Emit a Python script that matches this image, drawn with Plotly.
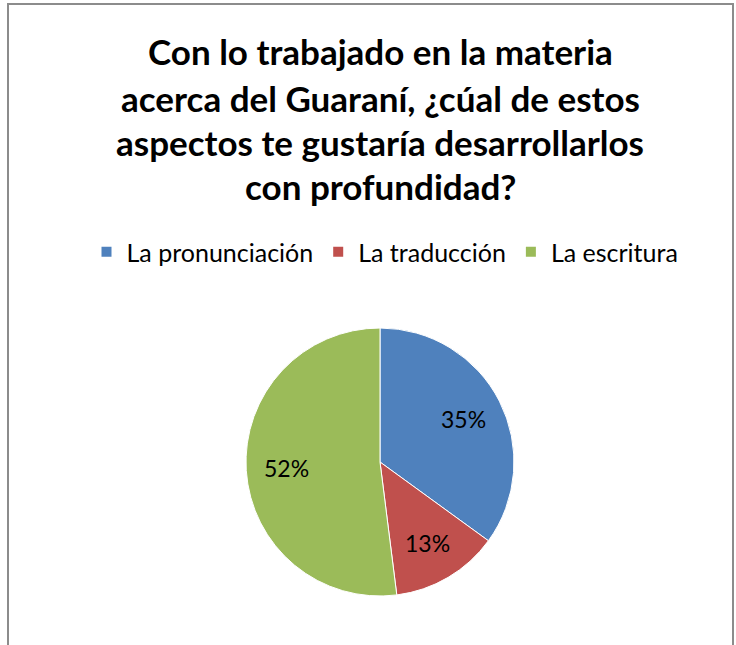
import math
import plotly.graph_objects as go

labels = ["La pronunciación", "La traducción", "La escritura"]
values = [35, 13, 52]
colors = ["#4F81BD", "#C0504D", "#9BBB59"]
title_lines = [
    "Con lo trabajado en la materia",
    "acerca del Guaraní, ¿cúal de estos",
    "aspectos te gustaría desarrollarlos",
    "con profundidad?",
]

W, H = 736, 645
FONT = "Lato, Carlito, Calibri, sans-serif"

# pie placement in pixels (centre and radius)
cx, cy, R = 380, 462, 134

fig = go.Figure(go.Pie(
    labels=labels,
    values=values,
    marker=dict(colors=colors, line=dict(color="white", width=1)),
    sort=False,
    direction="clockwise",
    rotation=0,
    textinfo="none",
    domain=dict(x=[(cx - R) / W, (cx + R) / W], y=[(H - cy - R) / H, (H - cy + R) / H]),
    hoverinfo="label+percent",
))

# data labels at ~70% of the radius, along each slice's mid angle (Excel style)
total = sum(values)
start = 0.0
for v in values:
    mid = (start + v / 2) / total * 2 * math.pi
    start += v
    px_ = cx + 0.70 * R * math.sin(mid)
    py_ = cy - 0.70 * R * math.cos(mid)
    fig.add_annotation(
        text=f"{round(100 * v / total)}%", x=px_ / W, y=1 - py_ / H,
        xref="paper", yref="paper", showarrow=False,
        xanchor="center", yanchor="middle",
        font=dict(family=FONT, size=23, color="black"),
    )

# title, one annotation per line (Excel-like line spacing)
title_y = [51, 98, 142, 186]
for line, y in zip(title_lines, title_y):
    fig.add_annotation(
        text=f"<b>{line}</b>", x=380 / W, y=1 - y / H, xref="paper", yref="paper",
        showarrow=False, xanchor="center", yanchor="middle",
        font=dict(family=FONT, size=35, color="black"),
    )

# chart area border
fig.add_shape(type="rect", xref="paper", yref="paper",
              x0=8 / W, x1=733 / W, y0=-0.05, y1=1 - 4 / H,
              line=dict(color="#8c8c8c", width=2), fillcolor="rgba(0,0,0,0)")

fig.update_layout(
    width=W, height=H,
    margin=dict(l=0, r=0, t=0, b=0),
    paper_bgcolor="white",
    showlegend=True,
    legend=dict(
        orientation="h", x=385 / W, xanchor="center", y=1 - 252 / H, yanchor="middle",
        font=dict(family=FONT, size=25, color="black"),
        itemsizing="constant", traceorder="normal",
    ),
)

fig.write_html("out.html", config={"displayModeBar": False},
               post_script="document.body.style.margin='0';")
